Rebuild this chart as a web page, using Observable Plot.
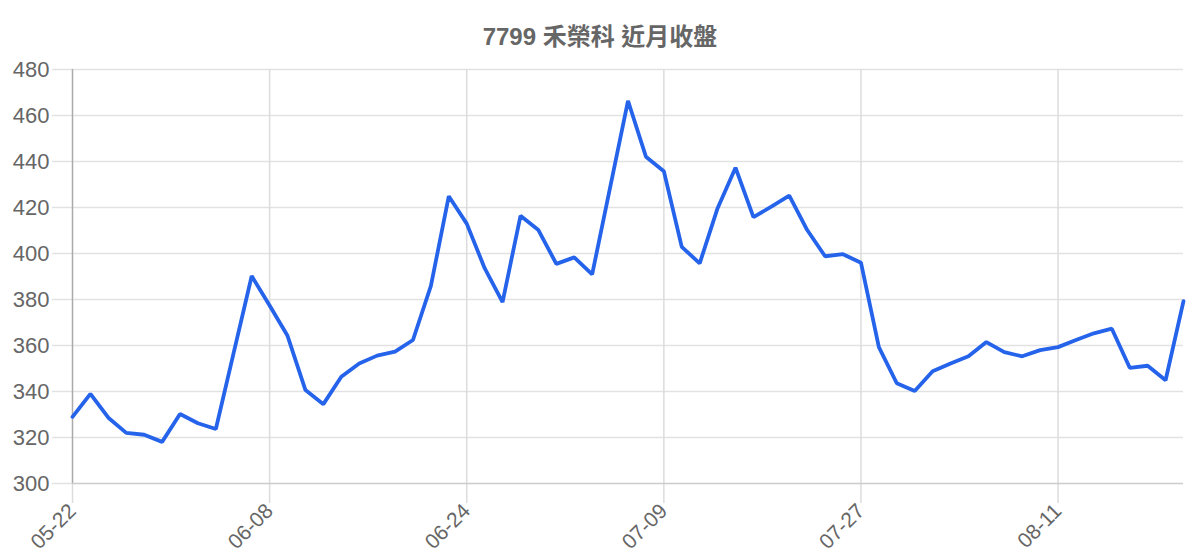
<!DOCTYPE html>
<html>
<head>
<meta charset="utf-8">
<script src="https://cdn.jsdelivr.net/npm/d3@7"></script>
<script src="https://cdn.jsdelivr.net/npm/@observablehq/plot@0.6"></script>
<style>
  html, body { margin: 0; padding: 0; background: #fff; }
  #title {
    height: 50px; line-height: 74px; text-align: center;
    font-family: "Liberation Sans", "Noto Sans CJK TC", sans-serif;
    font-weight: bold; font-size: 24px; color: #666;
    position: relative; z-index: 1;
  }
  #chart svg { display: block; }
</style>
</head>
<body>
<div id="title">7799 禾榮科 近月收盤</div>
<div id="chart"></div>
<script>
const dates = [
  "05-22","05-23","05-24","05-26","05-27","05-28","05-29","06-02","06-03","06-04","06-05",
  "06-08","06-09","06-10","06-11","06-12","06-13","06-16","06-17","06-18","06-19","06-20",
  "06-24","06-25","06-26","06-27","06-30","07-01","07-02","07-03","07-04","07-07","07-08",
  "07-09","07-10","07-11","07-14","07-15","07-16","07-17","07-18","07-21","07-22","07-23",
  "07-27","07-28","07-29","07-30","07-31","08-01","08-04","08-05","08-06","08-07","08-08",
  "08-11","08-12","08-13","08-14","08-15","08-18","08-19","08-20"
];
const closes = [
  329, 339, 328.6, 322, 321.2, 318.1, 330.2, 326.2, 323.7, 357, 390.2,
  377.4, 364.2, 340.6, 334.5, 346.4, 352.2, 355.6, 357.3, 362.4, 385.9, 424.9,
  413, 393.6, 378.9, 416.4, 410.2, 395.5, 398.3, 390.9, 428.6, 466.4, 442.1,
  435.8, 402.9, 395.7, 419.7, 437.3, 415.8, 420.4, 425.2, 410.2, 398.8, 399.7,
  396, 359.3, 343.6, 340.2, 348.8, 352.2, 355.3, 361.5, 357.1, 355.3, 358, 359.3,
  362.4, 365.3, 367.3, 350.3, 351.2, 344.9, 379.3
];
const xTickLabels = ["05-22", "06-08", "06-24", "07-09", "07-27", "08-11"];
const yTicks = [300, 320, 340, 360, 380, 400, 420, 440, 460, 480];

const rows = dates.map((d, i) => ({date: d, close: closes[i]}));

const chart = Plot.plot({
  width: 1200,
  height: 510,
  marginLeft: 72,
  marginRight: 17,
  marginTop: 19,
  marginBottom: 77,
  style: {fontFamily: "'Liberation Sans', Arial, sans-serif", background: "transparent"},
  x: {type: "point", domain: dates, padding: 0, label: null},
  y: {domain: [300, 480], label: null},
  marks: [
    Plot.ruleY(yTicks.slice(1), {stroke: "#e2e2e2", strokeWidth: 1.5}),
    Plot.ruleX(xTickLabels.slice(1), {stroke: "#dcdcdc", strokeWidth: 1.5}),
    Plot.axisY({ticks: yTicks, tickSize: 20, tickPadding: 3, stroke: "#e2e2e2", strokeWidth: 1.5,
      fill: "#666", fontSize: 22, label: null, tickFormat: d => String(d)}),
    Plot.axisX({ticks: xTickLabels, tickSize: 20, tickPadding: 4, tickRotate: -45,
      stroke: "#dcdcdc", strokeWidth: 1.5, fill: "#666", fontSize: 21, label: null}),
    Plot.ruleY([300], {stroke: "#cccccc", strokeWidth: 1.5}),
    Plot.ruleX([dates[0]], {y1: 300, y2: 480, stroke: "#aaaaaa", strokeWidth: 1.5}),
    Plot.lineY(rows, {x: "date", y: "close", stroke: "#2563eb", strokeWidth: 3.8,
      strokeLinejoin: "miter", curve: "linear"})
  ]
});
document.getElementById("chart").appendChild(chart);
</script>
</body>
</html>
